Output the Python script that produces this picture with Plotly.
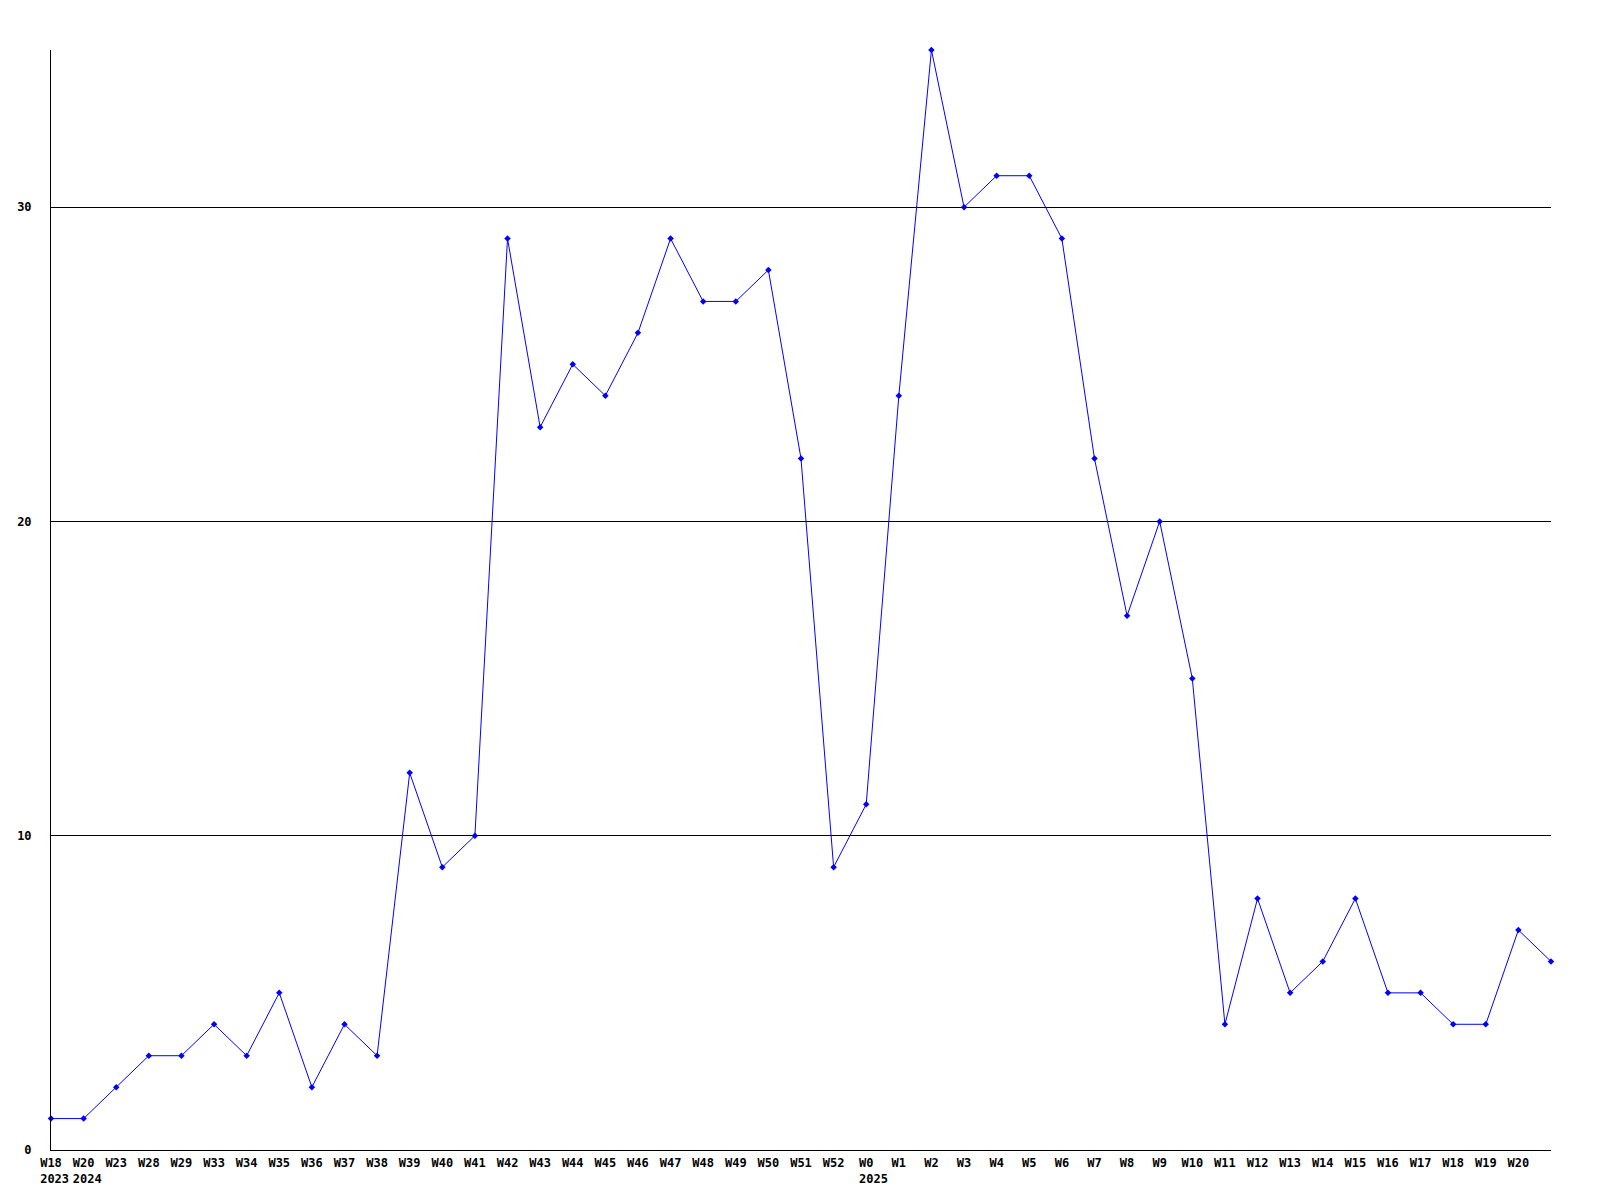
import plotly.graph_objects as go

weeks = ["W18", "W20", "W23", "W28", "W29", "W33", "W34", "W35", "W36", "W37", "W38",
         "W39", "W40", "W41", "W42", "W43", "W44", "W45", "W46", "W47", "W48", "W49",
         "W50", "W51", "W52", "W0", "W1", "W2", "W3", "W4", "W5", "W6", "W7", "W8",
         "W9", "W10", "W11", "W12", "W13", "W14", "W15", "W16", "W17", "W18", "W19",
         "W20", ""]
years = ["2023", "2024", "", "", "", "", "", "", "", "", "",
         "", "", "", "", "", "", "", "", "", "", "",
         "", "", "", "2025", "", "", "", "", "", "", "", "",
         "", "", "", "", "", "", "", "", "", "", "",
         "", ""]
values = [1, 1, 2, 3, 3, 4, 3, 5, 2, 4, 3,
          12, 9, 10, 29, 23, 25, 24, 26, 29, 27, 27,
          28, 22, 9, 11, 24, 35, 30, 31, 31, 29, 22, 17,
          20, 15, 4, 8, 5, 6, 8, 5, 5, 4, 4,
          7, 6]
y_ticks = [0, 10, 20, 30]

x = list(range(len(values)))


def make_label(w, yr):
    if not yr:
        return w
    # left-align the year under the week label (monospace font)
    pad = len(yr) - len(w)
    return w + "<br>" + "\u00a0" * pad + yr


ticktext = [make_label(w, yr) for w, yr in zip(weeks, years)]

tfont = dict(family="DejaVu Sans Mono", size=12, color="black", weight="bold")

fig = go.Figure()
fig.add_trace(go.Scatter(
    x=x, y=values, mode="lines+markers",
    line=dict(color="#0000ff", width=1),
    marker=dict(color="#0000ff", size=5, symbol="diamond"),
    cliponaxis=False, showlegend=False,
))

fig.update_layout(
    width=1600, height=1200,
    margin=dict(l=43, r=57, t=42, b=58, autoexpand=False),
    plot_bgcolor="white", paper_bgcolor="white",
    font=tfont,
    xaxis=dict(
        range=[0, len(values) - 1], tickvals=x[:-1], ticktext=ticktext[:-1],
        showgrid=False, zeroline=False, showline=True, linecolor="black", linewidth=1,
        ticks="", tickfont=tfont, tickangle=0, ticklabelstandoff=2, automargin=False,
    ),
    yaxis=dict(
        range=[0, 35], tickvals=y_ticks, showgrid=True, gridcolor="black", gridwidth=1,
        zeroline=False, showline=True, linecolor="black", linewidth=1, ticks="",
        ticklabelstandoff=16, tickfont=tfont, automargin=False,
    ),
)

fig.write_html("out.html")
